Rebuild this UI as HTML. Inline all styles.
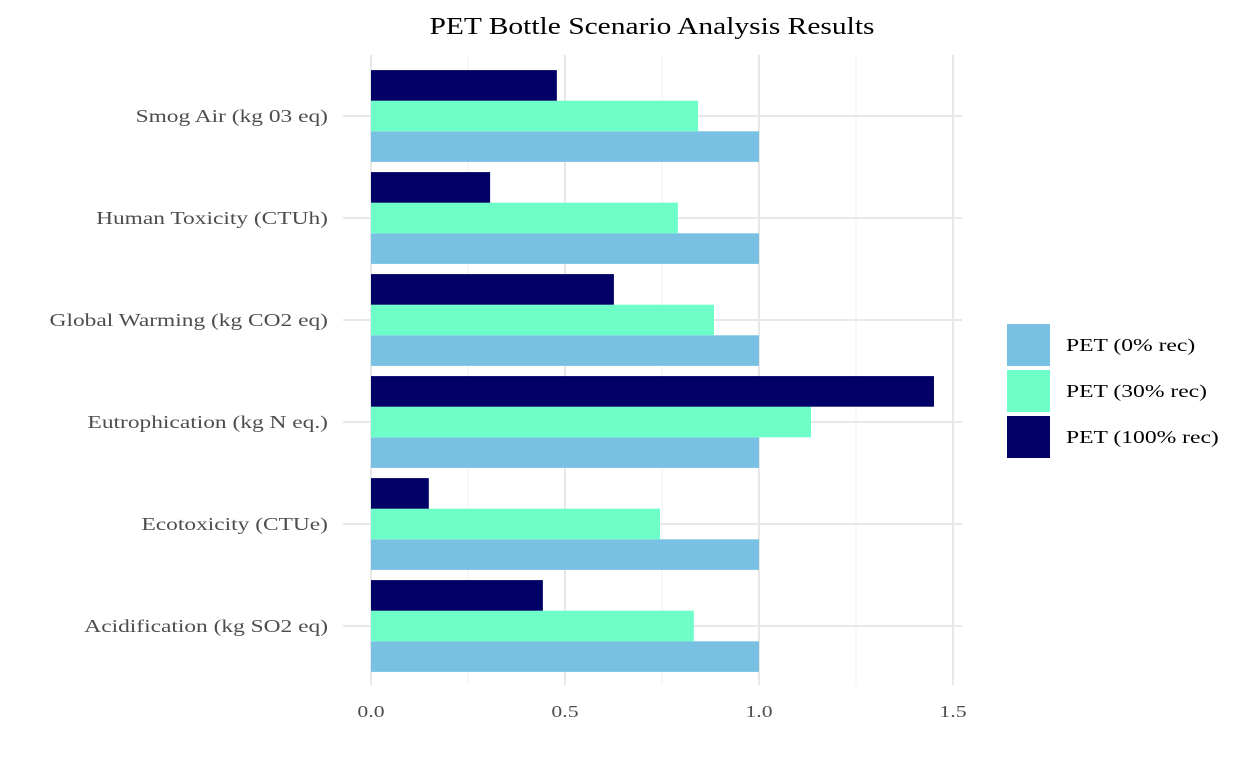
<!DOCTYPE html>
<html><head><meta charset="utf-8"><style>
body{margin:0;background:#fff}
svg{display:block;font-family:"Liberation Serif",serif}
</style></head><body>
<svg id="chart" width="1248" height="768">
<text x="652" y="34" text-anchor="middle" font-size="24" fill="#000" textLength="445" lengthAdjust="spacingAndGlyphs">PET Bottle Scenario Analysis Results</text>
<g id="grid"></g><g id="bars"></g><g id="axes"></g><g id="legend"></g>
</svg>
<script>
const categories=["Acidification (kg SO2 eq)","Ecotoxicity (CTUe)","Eutrophication (kg N eq.)","Global Warming (kg CO2 eq)","Human Toxicity (CTUh)","Smog Air (kg 03 eq)"];
const seriesNames=["PET (0% rec)","PET (30% rec)","PET (100% rec)"];
const rec0=[1,1,1,1,1,1];
const rec30=[0.832,0.745,1.134,0.884,0.791,0.843];
const rec100=[0.443,0.149,1.451,0.626,0.307,0.479];
const xTicks=[0,0.5,1,1.5];
const xTickLabels=["0.0","0.5","1.0","1.5"];
const colors=["#78c1e3","#6effc8","#000066"];
const NS="http://www.w3.org/2000/svg";
const x0=371,xs=388,py0=55,py1=685;
const xScale=v=>x0+v*xs;
const yCenter=i=>626-i*102;
function mk(tag,attrs,parent){const e=document.createElementNS(NS,tag);for(const k in attrs)e.setAttribute(k,attrs[k]);parent.appendChild(e);return e;}
function fit(t,ratio){const w=t.getComputedTextLength();t.setAttribute('textLength',w*ratio);t.setAttribute('lengthAdjust','spacingAndGlyphs');}
const grid=document.getElementById('grid'),bars=document.getElementById('bars'),axes=document.getElementById('axes'),legend=document.getElementById('legend');
for(let i=0;i<xTicks.length-1;i++){const v=(xTicks[i]+xTicks[i+1])/2;
const l=mk('line',{x1:xScale(v),x2:xScale(v),y1:py0,y2:py1,stroke:'#f0f0f0','stroke-width':1},grid);

}
xTicks.forEach((v,i)=>{const l=mk('line',{x1:xScale(v),x2:xScale(v),y1:py0,y2:py1,stroke:'#e8e8e8','stroke-width':2},grid);


const t=mk('text',{x:xScale(v),y:717,'text-anchor':'middle','font-size':17,fill:'#4d4d4d'},axes);t.textContent=xTickLabels[i];


fit(t,1.28);});
const series=[rec0,rec30,rec100];
const bh=30.6;
categories.forEach((c,i)=>{const yc=yCenter(i);
const l=mk('line',{x1:343,x2:962,y1:yc,y2:yc,stroke:'#e8e8e8','stroke-width':2},grid);


const t=mk('text',{x:328,y:yc+6,'text-anchor':'end','font-size':18,fill:'#4d4d4d'},axes);t.textContent=c;


fit(t,1.3);
series.forEach((s,k)=>{const y=yc+bh*1.5-(k+1)*bh;
const r=mk('rect',{x:xScale(0),y:y,width:xScale(s[i])-xScale(0),height:bh,fill:colors[k]},bars);

});});
seriesNames.forEach((n,k)=>{const y=324+k*46;
const r=mk('rect',{x:1007,y:y,width:43,height:42,fill:colors[k]},legend);


const t=mk('text',{x:1066,y:y+27,'font-size':18,fill:'#000'},legend);t.textContent=n;


fit(t,1.31);});
</script>
</body></html>
